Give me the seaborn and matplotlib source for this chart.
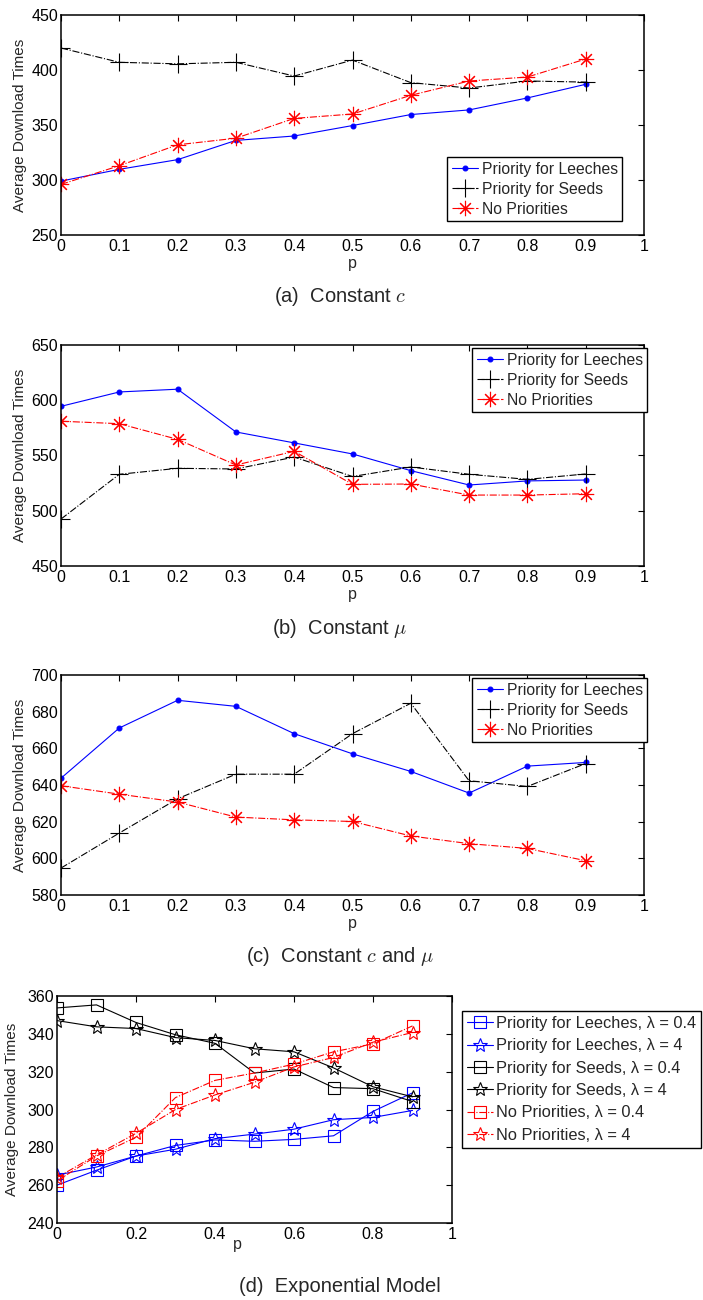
import numpy as np
import pandas as pd
import seaborn as sns
import matplotlib
matplotlib.use("Agg")
import matplotlib.pyplot as plt

sns.set_style("white")
plt.rcParams['font.family'] = ['Liberation Sans', 'DejaVu Sans']
plt.rcParams['mathtext.fontset'] = 'cm'

# ---------------- data ----------------
p = [0.0, 0.1, 0.2, 0.3, 0.4, 0.5, 0.6, 0.7, 0.8, 0.9]

a_leeches = [299, 309.7, 318.5, 336, 340, 349.5, 359.5, 363.7, 374.6, 387]
a_seeds = [420, 407, 405.6, 407, 394.5, 409, 388.5, 383.6, 390, 389]
a_none = [296, 313, 332, 338, 356, 360, 377, 390, 393.6, 410]

b_leeches = [594.5, 607.5, 610, 571.3, 561.4, 551.4, 536.3, 523.3, 527, 527.8]
b_seeds = [492.5, 533, 538.4, 537.8, 548.6, 531, 539.6, 533, 528.4, 533.3]
b_none = [581, 578.8, 564.6, 541.4, 553.8, 523.9, 524.2, 514.2, 514.2, 515.4]

c_leeches = [643.7, 671.1, 686.2, 682.9, 668, 657, 647.4, 635.6, 650.3, 652.3]
c_seeds = [594.7, 613.8, 632.5, 645.9, 645.9, 668, 684.6, 642.3, 639.2, 651.7]
c_none = [639.6, 635, 630.7, 622.5, 621, 620.1, 612.2, 608, 605.4, 598.7]

d_leeches_04 = [260, 267.9, 275.4, 281, 283.9, 283.2, 284.2, 286.1, 299, 308.8]
d_leeches_4 = [265.3, 269.6, 275.4, 279, 284.6, 287, 289.6, 294.6, 295.8, 299.5]
d_seeds_04 = [353.7, 355.3, 346, 339.5, 335, 319.3, 321.4, 311.6, 311, 304.2]
d_seeds_4 = [347, 343.7, 342.8, 338, 336.5, 332.1, 330.5, 322, 312, 306.7]
d_none_04 = [262.3, 275.4, 285.3, 306.3, 315.4, 319.3, 324, 330.5, 334.7, 344.2]
d_none_4 = [264, 276, 287.4, 300, 307.7, 314.4, 322.5, 327.5, 335.6, 340.7]

labels_abc = ["Priority for Leeches", "Priority for Seeds", "No Priorities"]
labels_d = ["Priority for Leeches, λ = 0.4", "Priority for Leeches, λ = 4",
            "Priority for Seeds, λ = 0.4", "Priority for Seeds, λ = 4",
            "No Priorities, λ = 0.4", "No Priorities, λ = 4"]

captions = ["(a)  Constant $c$", "(b)  Constant $\\mu$",
            "(c)  Constant $c$ and $\\mu$", "(d)  Exponential Model"]

ylims = [(250, 450), (450, 650), (580, 700), (240, 360)]
ytick_steps = [50, 50, 20, 20]

# ---------------- figure ----------------
W, H = 703, 1300
fig = plt.figure(figsize=(W / 100, H / 100), dpi=100)


def axes_px(left, top, right, bottom):
    return fig.add_axes([left / W, 1 - bottom / H, (right - left) / W, (bottom - top) / H])


BLUE = '#0000FF'
RED = '#FF0000'
BLACK = '#000000'
FS = 11.5


def style_axes(ax, ylim, step, xticks):
    ax.set_xlim(0, 1)
    ax.set_ylim(*ylim)
    ax.set_yticks(np.arange(ylim[0], ylim[1] + 1, step))
    ax.set_xticks(xticks)
    ax.set_xticklabels([('%g' % t) for t in xticks])
    ax.tick_params(direction='in', length=4, width=0.8, top=True, right=True,
                   labelsize=FS, pad=3, colors=BLACK)
    ax.tick_params(axis='y', pad=2)
    for s in ax.spines.values():
        s.set_visible(True)
        s.set_color(BLACK)
        s.set_linewidth(1.1)
    ax.set_ylabel("Average Download Times", fontsize=11, labelpad=3)
    ax.set_xlabel("p", fontsize=FS, labelpad=1)
    ax.grid(False)


def line(ax, y, color, marker, ls, ms, label, hollow=False, mew=0.8):
    sns.lineplot(x=p, y=y, ax=ax, color=color, marker=marker, linestyle=ls,
                 linewidth=0.8, markersize=ms, label=label, errorbar=None,
                 markeredgecolor=color,
                 markerfacecolor=('none' if hollow else color),
                 markeredgewidth=mew)


abc_sets = [(a_leeches, a_seeds, a_none), (b_leeches, b_seeds, b_none),
            (c_leeches, c_seeds, c_none)]
abc_boxes = [(61, 15, 644, 235), (61, 345, 644, 566), (61, 675, 644, 895)]
leg_boxes = [(447, 157), (472, 348), (472, 678)]
cap_y = [297, 628, 957, 1287]

for i in range(3):
    ax = axes_px(*abc_boxes[i])
    leeches, seeds, none = abc_sets[i]
    line(ax, leeches, BLUE, 'o', '-', 3.5, labels_abc[0])
    line(ax, seeds, BLACK, '+', '-.', 13, labels_abc[1], mew=0.8)
    line(ax, none, RED, (8, 2, 0), '-.', 11, labels_abc[2], mew=0.8)
    style_axes(ax, ylims[i], ytick_steps[i], np.round(np.arange(0, 1.01, 0.1), 1))
    l, t = leg_boxes[i]
    leg = ax.legend(loc='upper left', bbox_to_anchor=(l / W, 1 - t / H),
                    bbox_transform=fig.transFigure, fontsize=11.3, frameon=True,
                    fancybox=False, framealpha=1, edgecolor=BLACK,
                    handlelength=1.7, handletextpad=0.2, borderpad=0.3,
                    labelspacing=0.32, borderaxespad=0)
    leg.get_frame().set_linewidth(1.0)

# panel d
ax = axes_px(57, 996, 452, 1223)
line(ax, d_leeches_04, BLUE, 's', '-', 8, labels_d[0], hollow=True)
line(ax, d_leeches_4, BLUE, '*', '-', 10, labels_d[1], hollow=True)
line(ax, d_seeds_04, BLACK, 's', '-', 8, labels_d[2], hollow=True)
line(ax, d_seeds_4, BLACK, '*', '-', 10, labels_d[3], hollow=True)
line(ax, d_none_04, RED, 's', '-.', 8, labels_d[4], hollow=True)
line(ax, d_none_4, RED, '*', '-.', 10, labels_d[5], hollow=True)
style_axes(ax, ylims[3], ytick_steps[3], np.round(np.arange(0, 1.01, 0.2), 1))
ax.xaxis.set_label_coords((237 - 57) / (452 - 57), -0.06)
ax.yaxis.set_label_coords(-0.095, 0.5)
leg = ax.legend(loc='upper left', bbox_to_anchor=(462 / W, 1 - 1011 / H),
                bbox_transform=fig.transFigure, fontsize=11.8, frameon=True,
                fancybox=False, framealpha=1, edgecolor=BLACK,
                handlelength=1.6, handletextpad=0.2, borderpad=0.3,
                labelspacing=0.45, borderaxespad=0)
leg.get_frame().set_linewidth(1.0)

for cap, y in zip(captions, cap_y):
    fig.text(340 / W, 1 - y / H, cap, ha='center', va='center', fontsize=14.5)

fig.savefig("out.png", dpi=100)
